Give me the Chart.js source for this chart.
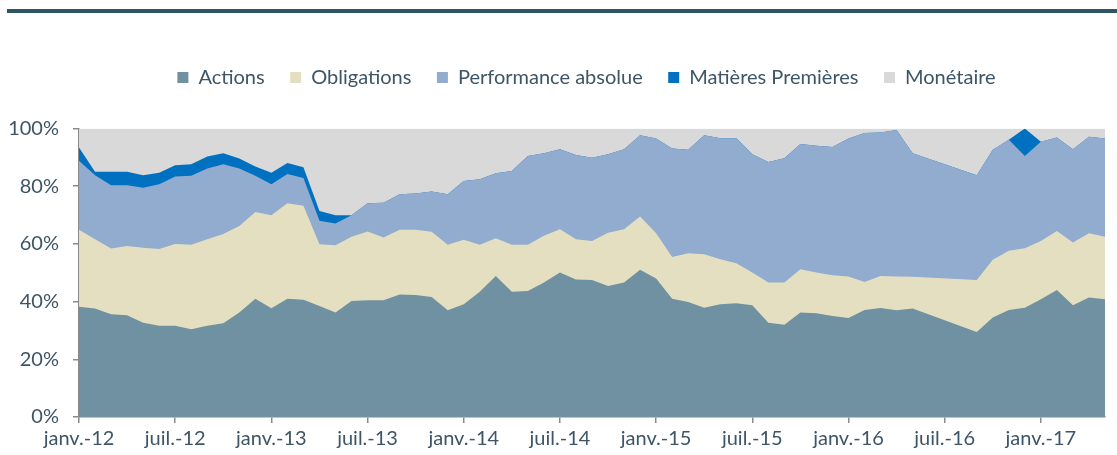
<!DOCTYPE html>
<html lang="fr">
<head>
<meta charset="utf-8">
<title>Allocation</title>
<script src="https://cdn.jsdelivr.net/npm/chart.js@4.4.1/dist/chart.umd.min.js"></script>
<style>
  html, body { margin: 0; padding: 0; background: #fff; }
  #wrap { width: 1117px; height: 455px; }
</style>
</head>
<body>
<div id="wrap"><canvas id="chart" width="1117" height="455"></canvas></div>
<script>
// mois disponibles (juin-août 2016 absents de la série)
const months = [
  "2012-01","2012-02","2012-03","2012-04","2012-05","2012-06","2012-07","2012-08","2012-09","2012-10","2012-11","2012-12",
  "2013-01","2013-02","2013-03","2013-04","2013-05","2013-06","2013-07","2013-08","2013-09","2013-10","2013-11","2013-12",
  "2014-01","2014-02","2014-03","2014-04","2014-05","2014-06","2014-07","2014-08","2014-09","2014-10","2014-11","2014-12",
  "2015-01","2015-02","2015-03","2015-04","2015-05","2015-06","2015-07","2015-08","2015-09","2015-10","2015-11","2015-12",
  "2016-01","2016-02","2016-03","2016-04","2016-05","2016-09","2016-10","2016-11","2016-12",
  "2017-01","2017-02","2017-03","2017-04","2017-05"
];

const actions = [
  38.2,37.6,35.6,35.3,32.7,31.6,31.6,30.4,31.6,32.5,36.2,41.0,
  37.7,41.0,40.6,38.5,36.2,40.2,40.5,40.5,42.5,42.3,41.6,37.0,
  39.1,43.4,48.9,43.4,43.7,46.6,50.1,47.7,47.5,45.4,46.6,51.0,
  48.0,41.0,39.9,37.9,39.1,39.4,38.7,32.7,32.0,36.2,36.0,35.0,
  34.3,37.1,37.8,37.0,37.6,29.5,34.5,37.1,37.9,
  40.8,44.0,38.7,41.4,40.8
];
const obligations = [
  26.7,24.0,22.8,24.0,26.0,26.6,28.4,29.3,30.0,30.9,30.0,30.1,
  32.2,33.1,32.6,21.4,23.3,22.3,23.8,21.7,22.4,22.6,22.6,22.7,
  22.3,16.3,13.1,16.3,16.0,16.2,15.0,13.9,13.5,18.5,18.5,18.5,
  15.7,14.5,16.9,18.5,15.6,13.9,11.4,13.9,14.6,15.0,14.1,14.1,
  14.4,9.7,11.1,11.7,11.0,18.0,20.0,20.5,20.6,
  20.2,20.5,21.8,22.3,21.7
];
const performanceAbsolue = [
  23.9,22.2,21.9,21.0,20.8,22.5,23.4,23.9,24.5,24.2,19.9,12.5,
  10.8,10.1,9.6,8.1,7.6,7.4,9.8,12.1,12.3,12.6,14.0,17.5,
  20.4,22.7,22.5,25.6,30.8,28.6,27.7,29.2,28.9,27.2,27.7,28.2,
  32.8,37.6,35.8,41.3,41.9,43.3,41.0,41.8,43.1,43.4,43.9,44.5,
  47.8,51.6,49.7,50.8,42.8,36.3,38.1,38.5,32.0,
  34.4,32.4,32.3,33.4,34.0
];
const matieresPremieres = [
  4.6,1.2,4.7,4.7,4.3,4.0,3.9,4.0,4.2,3.8,3.5,3.2,
  4.0,3.8,3.8,3.4,2.8,0,0,0,0,0,0,0,
  0,0,0,0,0,0,0,0,0,0,0,0,
  0,0,0,0,0,0,0,0,0,0,0,0,
  0,0,0,0,0,0,0,0,9.5,
  0,0,0,0,0
];
const monetaire = [
  6.6,15.0,15.0,15.0,16.2,15.3,12.7,12.4,9.7,8.6,10.4,13.2,
  15.3,12.0,13.4,28.6,30.1,30.1,25.9,25.7,22.8,22.5,21.8,22.8,
  18.2,17.6,15.5,14.7,9.5,8.6,7.2,9.2,10.1,8.9,7.2,2.3,
  3.5,6.9,7.4,2.3,3.4,3.4,8.9,11.6,10.3,5.4,6.0,6.4,
  3.5,1.6,1.4,0.5,8.6,16.2,7.4,3.9,0,
  4.6,3.1,7.2,2.9,3.5
];

const tickLabels = ["janv.-12","juil.-12","janv.-13","juil.-13","janv.-14","juil.-14",
                    "janv.-15","juil.-15","janv.-16","juil.-16","janv.-17"];

const textColor = "#3d5566";
const axisColor = "#8a8a8a";
const fontFamily = "Lato, 'Open Sans', sans-serif";
const font = { family: fontFamily, size: 20 };

// index du mois depuis janv. 2012
const monthIndex = (m) => {
  const [y, mo] = m.split("-").map(Number);
  return (y - 2012) * 12 + (mo - 1);
};
const xs = months.map(monthIndex);
const toPoints = (arr) => arr.map((v, i) => ({ x: xs[i], y: v }));

const series = [
  { label: "Actions", data: actions, color: "#6f91a1" },
  { label: "Obligations", data: obligations, color: "#e5dfc2" },
  { label: "Performance absolue", data: performanceAbsolue, color: "#91acce" },
  { label: "Matières Premières", data: matieresPremieres, color: "#0070c0" },
  { label: "Monétaire", data: monetaire, color: "#d9d9d9" }
];

// trait décoratif en haut, marge sous la légende, légende centrée sur le tracé
const frame = {
  id: "frame",
  beforeInit(chart) {
    const legend = chart.legend;
    const fit = legend.fit;
    legend.fit = function () {
      fit.bind(legend)();
      this.height += 31;
    };
    const draw = legend.draw;
    legend.draw = function () {
      const ctx = this.ctx;
      ctx.save();
      ctx.translate(34, 0);
      draw.apply(legend, arguments);
      ctx.restore();
    };
  },
  beforeDraw(chart) {
    const ctx = chart.ctx;
    ctx.save();
    ctx.fillStyle = "#2f5567";
    ctx.fillRect(7, 9, 1110, 4);
    ctx.restore();
  }
};

new Chart(document.getElementById("chart"), {
  type: "line",
  data: {
    datasets: series.map(s => ({
      label: s.label,
      data: toPoints(s.data),
      backgroundColor: s.color,
      borderColor: "rgba(0,0,0,0)",
      borderWidth: 0,
      pointRadius: 0,
      fill: "origin",
      tension: 0
    }))
  },
  options: {
    responsive: false,
    animation: false,
    layout: { padding: { top: 42, left: 0, right: 12, bottom: 0 } },
    scales: {
      x: {
        type: "linear",
        min: 0,
        max: xs[xs.length - 1],
        afterBuildTicks: (s) => { s.ticks = tickLabels.map((_, k) => ({ value: k * 6 })); },
        grid: { drawOnChartArea: false, color: axisColor, tickLength: 6, lineWidth: 1.5 },
        border: { color: axisColor, width: 1.5 },
        ticks: {
          autoSkip: false,
          maxRotation: 0,
          padding: 4,
          color: textColor,
          font,
          callback: (v) => tickLabels[v / 6]
        }
      },
      y: {
        stacked: true,
        min: 0,
        max: 100,
        afterFit: (s) => { s.width = 79; },
        grid: { drawOnChartArea: false, color: axisColor, tickLength: 6, lineWidth: 1.5 },
        border: { color: axisColor, width: 1.5 },
        ticks: {
          stepSize: 20,
          padding: 14,
          color: textColor,
          font,
          callback: (v) => v + "%"
        }
      }
    },
    plugins: {
      legend: {
        position: "top",
        labels: {
          boxWidth: 11,
          boxHeight: 11,
          padding: 25.5,
          color: textColor,
          font
        }
      },
      tooltip: { enabled: false }
    }
  },
  plugins: [frame]
});
</script>
</body>
</html>
